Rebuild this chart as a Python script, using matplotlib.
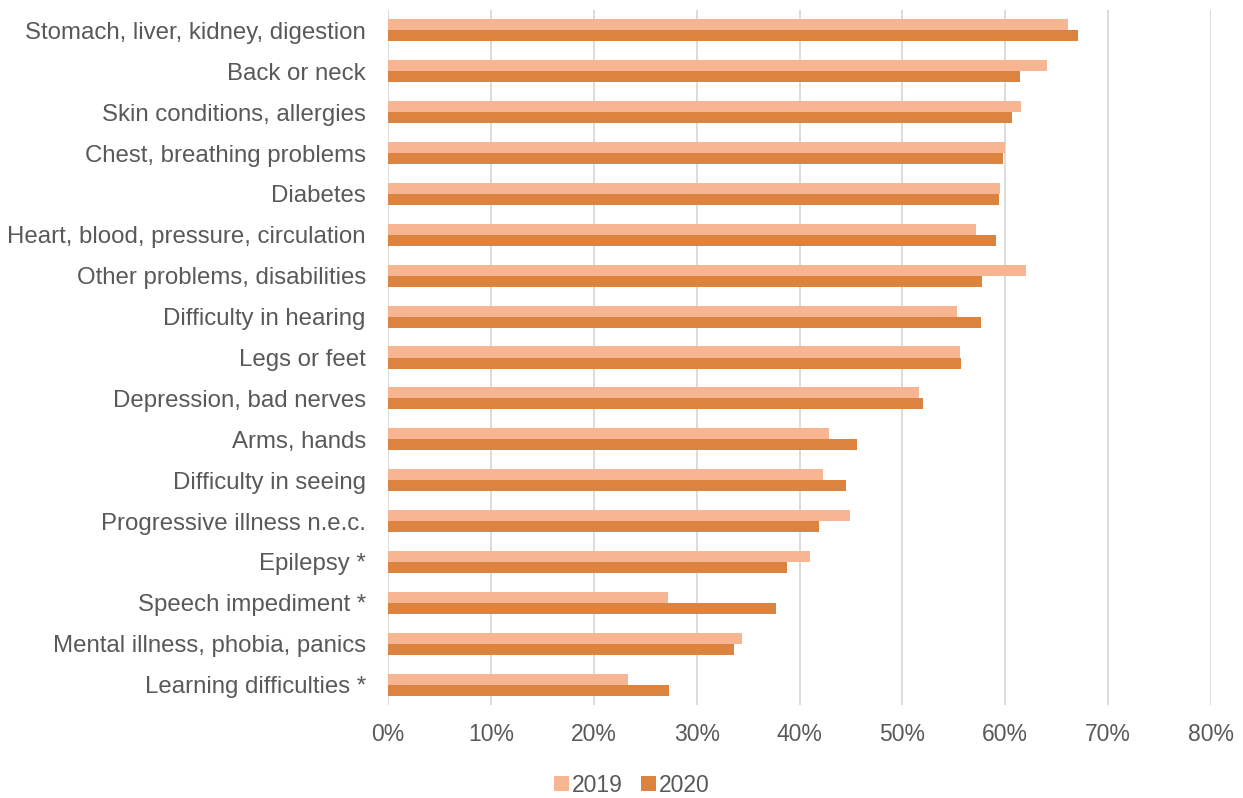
import matplotlib
matplotlib.use("Agg")
import matplotlib.pyplot as plt
import numpy as np
from matplotlib.ticker import FuncFormatter

categories = [
    "Stomach, liver, kidney, digestion",
    "Back or neck",
    "Skin conditions, allergies",
    "Chest, breathing problems",
    "Diabetes",
    "Heart, blood, pressure, circulation",
    "Other problems, disabilities",
    "Difficulty in hearing",
    "Legs or feet",
    "Depression, bad nerves",
    "Arms, hands",
    "Difficulty in seeing",
    "Progressive illness n.e.c.",
    "Epilepsy *",
    "Speech impediment *",
    "Mental illness, phobia, panics",
    "Learning difficulties *",
]
values_2019 = [66.1, 64.1, 61.5, 60.0, 59.5, 57.2, 62.0, 55.3, 55.6, 51.6,
               42.9, 42.3, 44.9, 41.0, 27.2, 34.4, 23.3]
values_2020 = [67.1, 61.4, 60.7, 59.8, 59.4, 59.1, 57.7, 57.6, 55.7, 52.0,
               45.6, 44.5, 41.9, 38.75, 37.7, 33.6, 27.3]
series_names = ["2019", "2020"]
xticks = [0, 10, 20, 30, 40, 50, 60, 70, 80]

plt.rcParams['font.family'] = ['Liberation Sans', 'DejaVu Sans']
text_color = "#595959"
c2019 = "#F8B591"
c2020 = "#DC843F"

fig = plt.figure(figsize=(12.43, 7.98), dpi=100)
ax = fig.add_axes([388/1243, 1-705/798, (1211-388)/1243, (705-10)/798])

y = np.arange(len(categories))
h = 0.27
ax.barh(y - h/2, values_2019, height=h, color=c2019, label=series_names[0], zorder=3)
ax.barh(y + h/2, values_2020, height=h, color=c2020, label=series_names[1], zorder=3)

ax.set_ylim(len(categories) - 0.5, -0.5)
ax.set_xlim(0, 80)
ax.set_xticks(xticks)
ax.xaxis.set_major_formatter(FuncFormatter(lambda v, p: f"{int(v)}%"))
ax.set_yticks(y)
ax.set_yticklabels(categories)
ax.grid(axis='x', color="#D9D9D9", linewidth=1.3, zorder=0)
ax.set_axisbelow(True)
for s in ax.spines.values():
    s.set_visible(False)
ax.tick_params(axis='both', length=0, colors=text_color)
ax.tick_params(axis='y', pad=16, labelsize=17.3)
ax.tick_params(axis='x', pad=13, labelsize=16.5)

leg = fig.legend(loc='center', bbox_to_anchor=(632/1243, 1-785/798), ncol=2,
                 frameon=False, fontsize=16.5, handlelength=0.65, handleheight=0.65,
                 handletextpad=0.12, columnspacing=0.8)
for t in leg.get_texts():
    t.set_color(text_color)

fig.savefig("out.png", dpi=100)
